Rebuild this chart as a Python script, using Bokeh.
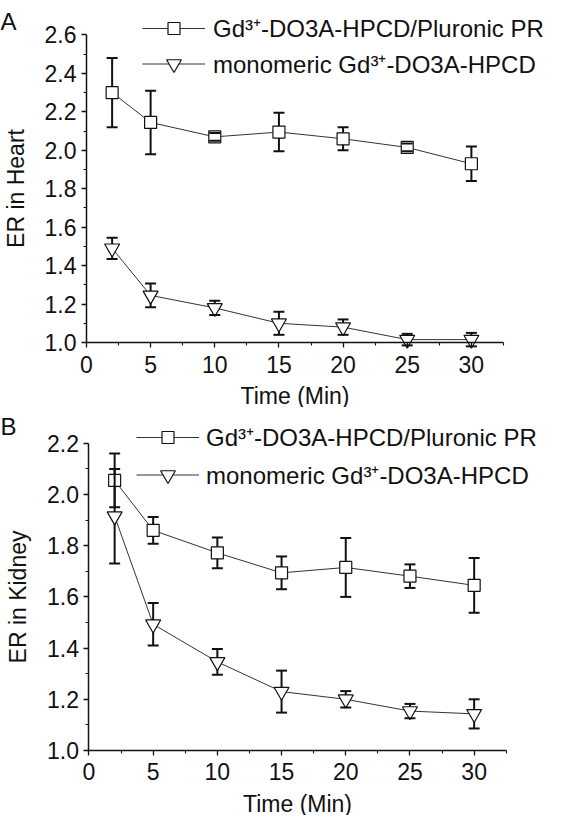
from bokeh.plotting import figure
from bokeh.models import (Range1d, FixedTicker, NumeralTickFormatter, Legend,
                          LegendItem, Label, ColumnDataSource)
from bokeh.layouts import column
from bokeh.embed import file_html
from bokeh.resources import INLINE

# ---------------- data ----------------
time_min = [2, 5, 10, 15, 20, 25, 30]

heart_pr = [2.30, 2.145, 2.07, 2.095, 2.06, 2.015, 1.93]
heart_pr_err = [0.18, 0.165, 0.02, 0.10, 0.06, 0.02, 0.09]
heart_mono = [1.49, 1.245, 1.18, 1.10, 1.08, 1.015, 1.015]
heart_mono_err = [0.055, 0.062, 0.037, 0.06, 0.04, 0.03, 0.035]

kidney_pr = [2.055, 1.86, 1.772, 1.694, 1.715, 1.681, 1.645]
kidney_pr_err = [0.105, 0.052, 0.06, 0.064, 0.115, 0.046, 0.107]
kidney_mono = [1.915, 1.493, 1.346, 1.23, 1.20, 1.154, 1.143]
kidney_mono_err = [0.185, 0.083, 0.05, 0.082, 0.032, 0.028, 0.057]

x_ticks = [0, 5, 10, 15, 20, 25, 30]
x_minor = [2.5, 7.5, 12.5, 17.5, 22.5, 27.5, 32.5]
heart_ticks = [1.0, 1.2, 1.4, 1.6, 1.8, 2.0, 2.2, 2.4, 2.6]
heart_minor = [1.1, 1.3, 1.5, 1.7, 1.9, 2.1, 2.3, 2.5]
kidney_ticks = [1.0, 1.2, 1.4, 1.6, 1.8, 2.0, 2.2]
kidney_minor = [1.1, 1.3, 1.5, 1.7, 1.9, 2.1]

label_pr = "Gd\u00b3\u207a-DO3A-HPCD/Pluronic PR"
label_mono = "monomeric Gd\u00b3\u207a-DO3A-HPCD"

FONT = "Liberation Sans"


def make_panel(letter, ylabel, y_pr, e_pr, y_mono, e_mono, xr, yr, ybounds,
               yt, ym, width, height, leg1, leg2, letter_top):
    p = figure(width=width, height=height, output_backend="svg",
               toolbar_location=None, x_range=Range1d(*xr),
               y_range=Range1d(*yr), min_border=0)
    p.outline_line_color = None
    p.grid.visible = False
    p.background_fill_color = "white"
    p.border_fill_color = "white"

    for ax in (p.xaxis[0], p.yaxis[0]):
        ax.axis_line_width = 1.5
        ax.axis_line_color = "#111111"
        ax.major_tick_line_color = "#111111"
        ax.minor_tick_line_color = "#111111"
        ax.major_tick_line_width = 1.3
        ax.minor_tick_line_width = 1.1
        ax.major_tick_in = 0
        ax.major_tick_out = 5
        ax.minor_tick_in = 0
        ax.minor_tick_out = 3
        ax.major_label_text_font = FONT
        ax.major_label_text_font_size = "23px"
        ax.major_label_text_color = "#111111"
        ax.axis_label_text_font = FONT
        ax.axis_label_text_font_size = "23px"
        ax.axis_label_text_font_style = "normal"
        ax.axis_label_text_color = "#111111"

    p.xaxis.ticker = FixedTicker(ticks=x_ticks, minor_ticks=x_minor)
    p.yaxis.ticker = FixedTicker(ticks=yt, minor_ticks=ym)
    p.yaxis.formatter = NumeralTickFormatter(format="0.0")
    p.xaxis.axis_label = "Time (Min)"
    p.yaxis.axis_label = ylabel
    p.xaxis.major_label_standoff = 8
    p.xaxis.axis_label_standoff = 7
    p.yaxis.major_label_standoff = 5
    p.yaxis.axis_label_standoff = 13
    p.xaxis.bounds = (x_ticks[0], x_minor[-1])
    p.yaxis.bounds = ybounds
    p.yaxis.fixed_location = x_ticks[0]
    p.xaxis.fixed_location = ybounds[0]

    renderers = []
    for yv, ev, marker, size in ((y_pr, e_pr, "square", 12),
                                 (y_mono, e_mono, "inverted_triangle", 15)):
        src = ColumnDataSource(dict(
            x=time_min, y=yv,
            lo=[a - b for a, b in zip(yv, ev)],
            hi=[a + b for a, b in zip(yv, ev)]))
        ln = p.line("x", "y", source=src, line_color="#333333", line_width=1)
        p.segment(x0="x", y0="lo", x1="x", y1="hi", source=src,
                  line_color="#111111", line_width=2)
        sc = p.scatter("x", "y", source=src, marker=marker, size=size,
                       fill_color="white", line_color="#111111",
                       line_width=1.2)
        p.scatter("x", "hi", source=src, marker="dash", size=11,
                  line_color="#111111", line_width=2)
        p.scatter("x", "lo", source=src, marker="dash", size=11,
                  line_color="#111111", line_width=2)
        renderers.append((ln, sc))

    for (ln, sc), text, (lx, ly, gh, so) in zip(
            renderers, (label_pr, label_mono), (leg1, leg2)):
        lg = Legend(items=[LegendItem(label=text, renderers=[ln, sc])],
                    location=(lx, ly), orientation="vertical",
                    glyph_width=63, glyph_height=gh, label_height=gh,
                    label_standoff=so, padding=0, margin=0, spacing=0,
                    border_line_color=None, background_fill_alpha=0,
                    label_text_font=FONT, label_text_font_size="24px",
                    label_text_color="#111111")
        p.add_layout(lg, "center")

    p.add_layout(Label(x=0, y=height - letter_top, x_units="screen",
                       y_units="screen", text=letter, text_font=FONT,
                       text_font_size="24px", text_color="#111111",
                       text_baseline="top", text_align="left"))
    return p


# panel A: 553 x 407 frame; x=0 at 86 px (12.83 px/unit); y=1 at 342 px (192.2 px/unit)
pA = make_panel("A", "ER in Heart", heart_pr, heart_pr_err, heart_mono,
                heart_mono_err, (-6.70, 36.40), (0.6618, 2.7795), (1.0, 2.6),
                heart_ticks, heart_minor, 553, 407,
                (142, 363, 30, 8), (142, 325, 37, 8), 7)
# panel B: 553 x 408 frame; x=0 at 88.5 px (12.84 px/unit); y=1 at 343 px (256 px/unit)
pB = make_panel("B", "ER in Kidney", kidney_pr, kidney_pr_err, kidney_mono,
                kidney_mono_err, (-6.89, 36.18), (0.7461, 2.3398), (1.0, 2.2),
                kidney_ticks, kidney_minor, 553, 408,
                (136, 361.7, 30, 7), (136, 322.5, 37, 7), 5)

layout = column(pA, pB, spacing=0)
open("out.html", "w").write(file_html(layout, INLINE))
